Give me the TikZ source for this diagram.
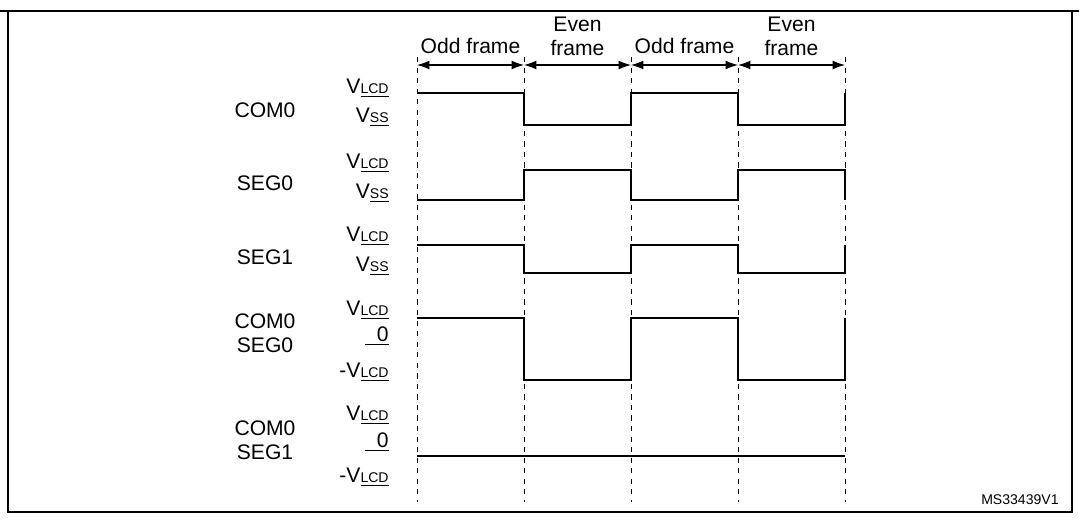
\documentclass[tikz,border=0pt]{standalone}
\usepackage{fontspec}
\setmainfont{Liberation Sans}
\usetikzlibrary{arrows.meta}
\tikzset{
  sig/.style={line width=1.3pt},
  grid/.style={dashed, thin},
  lvl/.style={anchor=east, inner sep=0pt},
  row/.style={anchor=center, inner sep=0pt, align=center},
  span/.style={semithick, {Latex[length=7pt,width=5pt]}-{Latex[length=7pt,width=5pt]}},
}
\newcommand{\lv}[1]{\underline{\smash{#1}\vphantom{V}}}
\begin{document}
\fontsize{12}{13.5}\selectfont
\begin{tikzpicture}[x=0.02cm, y=-0.02cm]
        \useasboundingbox (0,0) rectangle (1079,521);
        \draw[thick] (0,11) -- (1079,11);
        \draw[thick] (8,11) -- (8,512) -- (1072,512) -- (1072,11);
        \foreach \x in {417,524,631,738,845}
            \draw[grid] (\x,57) -- (\x,502);
        \draw[span] (417,65) -- node[above=2pt]{Odd frame} (524,65);
        \draw[span] (524,65) -- node[above=1pt, align=center]{Even\\frame} (631,65);
        \draw[span] (631,65) -- node[above=2pt]{Odd frame} (738,65);
        \draw[span] (738,65) -- node[above=1pt, align=center]{Even\\frame} (845,65);
        % row names
        \node[row] (com0) at (265,110) {COM0};
        \node[row] (seg0) at (265,183) {SEG0};
        \node[row] (seg1) at (265,257) {SEG1};
        \node[row] (cs0) at (265,333) {COM0\\SEG0};
        \node[row] (cs1) at (265,440) {COM0\\SEG1};
        % levels
        \node[lvl] (a1) at (389,88) {V\lv{\footnotesize LCD}};
        \node[lvl] (a2) at (389,117) {V\lv{\footnotesize SS}};
        \node[lvl] (b1) at (389,163) {V\lv{\footnotesize LCD}};
        \node[lvl] (b2) at (389,193) {V\lv{\footnotesize SS}};
        \node[lvl] (c1) at (389,236) {V\lv{\footnotesize LCD}};
        \node[lvl] (c2) at (389,266) {V\lv{\footnotesize SS}};
        \node[lvl] (d1) at (389,310) {V\lv{\footnotesize LCD}};
        \node[lvl] (d2) at (389,336) {\underline{\hspace{7pt}0}};
        \node[lvl] (d3) at (389,372) {-V\lv{\footnotesize LCD}};
        \node[lvl] (e1) at (389,415) {V\lv{\footnotesize LCD}};
        \node[lvl] (e2) at (389,442) {\underline{\hspace{7pt}0}};
        \node[lvl] (e3) at (389,477) {-V\lv{\footnotesize LCD}};
        % waveforms
        \draw[sig] (417,93) -- (524,93) -- (524,125) -- (631,125) -- (631,93) -- (738,93) -- (738,125) -- (845,125) -- (845,93);
        \draw[sig] (417,200) -- (524,200) -- (524,170) -- (631,170) -- (631,200) -- (738,200) -- (738,170) -- (845,170) -- (845,200);
        \draw[sig] (417,245) -- (524,245) -- (524,273) -- (631,273) -- (631,245) -- (738,245) -- (738,273) -- (845,273) -- (845,245);
        \draw[sig] (417,318) -- (524,318) -- (524,380) -- (631,380) -- (631,318) -- (738,318) -- (738,380) -- (845,380) -- (845,318);
        \draw[sig] (417,456) -- (845,456);
        \node[anchor=east, font=\footnotesize] (ref) at (1066,500) {MS33439V1};
\end{tikzpicture}
\end{document}
